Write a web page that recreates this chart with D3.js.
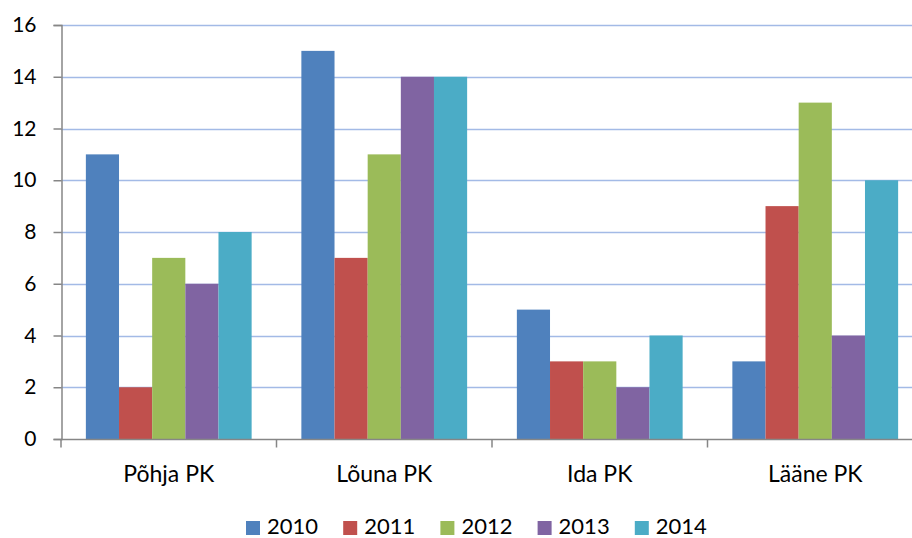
<!DOCTYPE html>
<html>
<head>
  <meta charset="utf-8">
  <title></title>
  <style type="text/css">
    body { margin: 0; background: #fff; }
    svg text { font-family: Lato, "Open Sans", sans-serif; fill: #000; }
  </style>
</head>
<body>
  <div id="my_dataviz"></div>
<script src="https://d3js.org/d3.v7.min.js"></script>
<script type="text/javascript">

  var regions = ["Põhja PK", "Lõuna PK", "Ida PK", "Lääne PK"];
  var years = ["2010", "2011", "2012", "2013", "2014"];
  var v2010 = [11, 15, 5, 3];
  var v2011 = [2, 7, 3, 9];
  var v2012 = [7, 11, 3, 13];
  var v2013 = [6, 14, 2, 4];
  var v2014 = [8, 14, 4, 10];
  var yTicks = [0, 2, 4, 6, 8, 10, 12, 14, 16];
  var colors = ["#4F81BD", "#C0504D", "#9BBB59", "#8064A2", "#4BACC6"];

  function draw() {
    var series = [v2010, v2011, v2012, v2013, v2014];

    var W = 912, H = 538;
    var plotLeft = 61, plotRight = 923, plotTop = 25, plotBottom = 439;

    var svg = d3.select("#my_dataviz")
      .append("svg")
        .attr("width", W)
        .attr("height", H);

    var x = d3.scaleBand()
      .domain(regions)
      .range([plotLeft, plotRight])
      .padding(0);

    // 150% gap width like excel -> 0.75 bar on each side
    var xSub = d3.scaleBand()
      .domain(years)
      .range([0, x.bandwidth()])
      .paddingInner(0)
      .paddingOuter(0.75);

    var y = d3.scaleLinear()
      .domain([0, 16])
      .range([plotBottom, plotTop]);

    // gridlines
    svg.append("g")
      .selectAll("line")
      .data(yTicks.filter(function(d) { return d > 0; }))
      .enter().append("line")
        .attr("x1", plotLeft)
        .attr("x2", W)
        .attr("y1", function(d) { return Math.round(y(d)) + 0.5; })
        .attr("y2", function(d) { return Math.round(y(d)) + 0.5; })
        .attr("stroke", "#A3BAE6")
        .attr("stroke-width", 1.3);

    // bars
    var rows = regions.map(function(r, i) {
      return { region: r, vals: years.map(function(yr, j) { return { key: yr, value: series[j][i], c: colors[j] }; }) };
    });

    svg.append("g")
      .selectAll("g")
      .data(rows)
      .enter()
      .append("g")
        .attr("transform", function(d) { return "translate(" + x(d.region) + ",0)"; })
      .selectAll("rect")
      .data(function(d) { return d.vals; })
      .enter().append("rect")
        .attr("x", function(d) { return xSub(d.key); })
        .attr("y", function(d) { return y(d.value); })
        .attr("width", xSub.bandwidth())
        .attr("height", function(d) { return plotBottom - y(d.value); })
        .attr("fill", function(d) { return d.c; });

    // y axis
    var yAxis = svg.append("g")
      .attr("transform", "translate(" + (plotLeft + 0.5) + ",0)")
      .call(d3.axisLeft(y).tickValues(yTicks).tickSize(8).tickPadding(17));
    yAxis.select(".domain").attr("stroke", "#868686").attr("stroke-width", 1.5);
    yAxis.selectAll(".tick line").attr("stroke", "#868686").attr("stroke-width", 1.5);
    yAxis.selectAll("text").style("font-size", "21px").attr("fill", "#000");

    // x axis
    var xAxis = svg.append("g")
      .attr("transform", "translate(0," + (plotBottom + 0.5) + ")");
    xAxis.append("line")
      .attr("x1", plotLeft).attr("x2", plotRight)
      .attr("stroke", "#868686").attr("stroke-width", 1.5);
    xAxis.selectAll(".tk")
      .data(d3.range(regions.length + 1))
      .enter().append("line")
        .attr("class", "tk")
        .attr("x1", function(i) { return plotLeft + i * x.step(); })
        .attr("x2", function(i) { return plotLeft + i * x.step(); })
        .attr("y1", 0).attr("y2", 8)
        .attr("stroke", "#868686").attr("stroke-width", 1.5);
    xAxis.selectAll(".lbl")
      .data(regions)
      .enter().append("text")
        .attr("class", "lbl")
        .attr("x", function(d) { return x(d) + x.bandwidth() / 2; })
        .attr("y", 42)
        .attr("text-anchor", "middle")
        .style("font-size", "23px")
        .text(function(d) { return d; });

    // legend
    var item = svg.append("g").selectAll("g")
      .data(years)
      .enter().append("g")
        .attr("transform", function(d, i) { return "translate(" + (246 + i * 97.2) + ",0)"; });
    item.append("rect")
      .attr("x", 0).attr("y", 521)
      .attr("width", 14).attr("height", 14)
      .attr("fill", function(d, i) { return colors[i]; });
    item.append("text")
      .attr("x", 21).attr("y", 534)
      .style("font-size", "22px")
      .text(function(d) { return d; });
  }

  draw();

</script>
</body>
</html>
